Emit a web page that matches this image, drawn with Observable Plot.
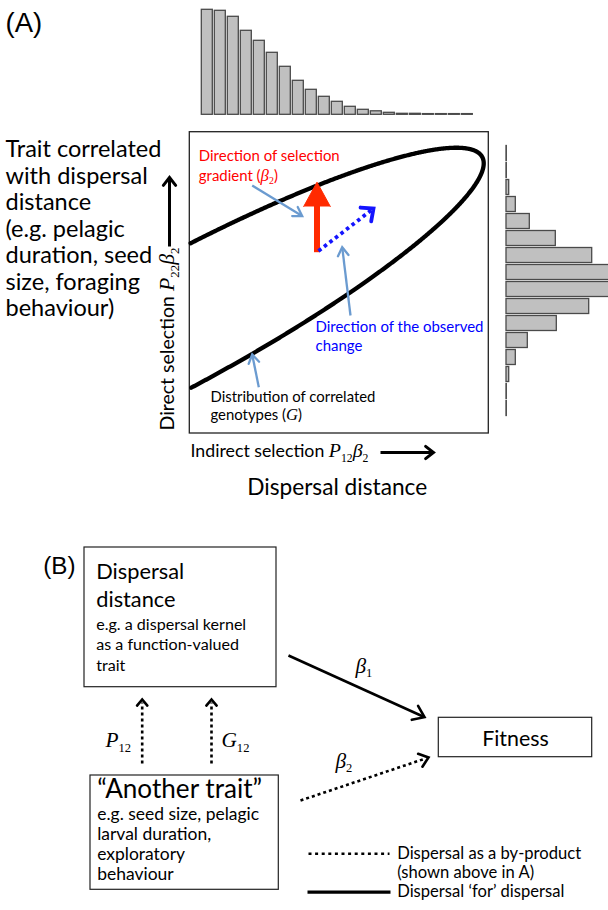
<!DOCTYPE html>
<html><head><meta charset="utf-8">
<script src="https://cdn.jsdelivr.net/npm/d3@7"></script>
<script src="https://cdn.jsdelivr.net/npm/@observablehq/plot@0.6"></script>
<style>html,body{margin:0;padding:0;background:#fff}svg{display:block}</style>
</head><body><div id="chart"></div>
<script>
// ---------------- DATA ----------------
// Frequency histogram of dispersal distance (top, bars left -> right)
const dispersalBins = d3.range(1, 22);
const dispersalCounts = [105, 104, 98, 84, 74, 62, 48, 34, 25, 18, 13, 8, 5, 3.5, 2, 1, 1, 0.7, 0.7, 0.7, 0.7];
// Frequency histogram of the correlated trait (right, bins top -> bottom)
const traitBins = d3.range(1, 17);
const traitCounts = [0.3, 0.3, 2.7, 9.3, 23.3, 49.3, 85.7, 104, 104, 82.7, 50.3, 21.3, 9.3, 2.7, 0.3, 0.3];
// Text labels
const leftLines = ["Trait correlated", "with dispersal", "distance", "(e.g. pelagic", "duration, seed", "size, foraging", "behaviour)"];

// ---------------- LAYOUT (diagram geometry, pixels) ----------------
const NS = "http://www.w3.org/2000/svg";
const SANS = "Lato, 'Open Sans', sans-serif";
const ARIAL = "'Liberation Sans', Arial, sans-serif";
const SERIF = "'Liberation Serif', 'Times New Roman', serif";
const RED = "#ff2a00", BLUE = "#1414ff", LBLUE = "#6b9bd0";

const boxA = [{x1: 189.3, x2: 488.3, y1: 131.7, y2: 433}];
const boxesB = [
  {x1: 84, x2: 276, y1: 547, y2: 686.7},
  {x1: 90, x2: 278.3, y1: 775, y2: 889.3},
  {x1: 438.3, x2: 591.7, y1: 717.3, y2: 756.7}
];
const G = {cx: 175, cy: 323, a: 349, b: 64, deg: 28.5};
const th = G.deg * Math.PI / 180;
const ellipse = d3.range(0, 1441).map(k => {
  const t = -Math.PI + k * Math.PI / 720, ca = Math.cos(t), sa = Math.sin(t);
  return [G.cx + G.a * ca * Math.cos(th) + G.b * sa * Math.sin(th),
          G.cy - G.a * ca * Math.sin(th) + G.b * sa * Math.cos(th)];
}).filter(p => p[0] >= boxA[0].x1 + 0.5);

const X = d => d[0], Y = d => d[1];
function shaft(a, b, o) {
  return Plot.link([{a, b}], {x1: d => d.a[0], y1: d => d.a[1], x2: d => d.b[0], y2: d => d.b[1], ...o});
}
function head(from, tip, len, ang, o) {
  const dx = tip[0] - from[0], dy = tip[1] - from[1], L = Math.hypot(dx, dy);
  const ux = dx / L, uy = dy / L, r = ang * Math.PI / 180;
  const wing = s => [tip[0] - (ux * Math.cos(s) - uy * Math.sin(s)) * len,
                     tip[1] - (ux * Math.sin(s) + uy * Math.cos(s)) * len];
  return Plot.line([wing(r), tip, wing(-r)], {x: X, y: Y, strokeLinejoin: "miter", strokeMiterlimit: 10, ...o});
}
function arrow(from, tip, o, hl, ha, dotted) {
  const dx = tip[0] - from[0], dy = tip[1] - from[1], L = Math.hypot(dx, dy);
  const back = dotted ? 3 : 1;
  const end = [tip[0] - dx / L * back, tip[1] - dy / L * back];
  const so = dotted ? {...o, strokeDasharray: dotted} : o;
  return [shaft(from, end, so), head(from, tip, hl, ha, o)];
}

const textGroups = [
  {rows: [["(A)", 5, 31.7]], font: ARIAL, size: 25, w: 36.7},
  {rows: leftLines.map((t, i) => [t, 5, 156.5 + 26.5 * i]), size: 22, w: 156},
  {rows: [["n:Direct selection |m:P|b:22|m:β|b:2", 173, 430]], size: 15, rotate: -90, w: 183},
  {rows: [["Direction of selection", 198.3, 160.7], ["n:gradient (|m:β|b:2|n:)", 198.3, 180]], size: 15, fill: "#ff0000", w: 141},
  {rows: [["Direction of the observed", 315, 331.7], ["change", 315, 350.5]], size: 15, fill: "#0000ff", w: 168},
  {rows: [["Distribution of correlated", 210, 401], ["n:genotypes (|m:G|n:)", 210, 419]], size: 14, w: 165},
  {rows: [["n:Indirect selection |m:P|b:12|m:β|b:2", 190, 456.7]], size: 15, w: 178},
  {rows: [["Dispersal distance", 246.7, 494.5]], size: 21, w: 180},
  {rows: [["(B)", 42.7, 573.3]], font: ARIAL, size: 25, w: 32.3},
  {rows: [["Dispersal", 95.7, 578.3], ["distance", 95.7, 606.7]], size: 22, w: 88},
  {rows: [["e.g. a dispersal kernel", 95.7, 629], ["as a function-valued", 95.7, 649.5], ["trait", 95.7, 670]], size: 15, w: 150},
  {rows: [["m:β|b:1", 355, 672], ["m:β|b:2", 335, 767], ["m:P|b:12", 105, 746.7], ["m:G|b:12", 221, 746.7]], font: SERIF, size: 19},
  {rows: [["“Another trait”", 96.7, 797]], size: 22, w: 165},
  {rows: [["e.g. seed size, pelagic", 96.7, 819], ["larval duration,", 96.7, 839], ["exploratory", 96.7, 859], ["behaviour", 96.7, 879]], size: 15, w: 162},
  {rows: [["Fitness", 515, 745]], size: 20, w: 66.7, anchor: "middle"},
  {rows: [["Dispersal as a by-product", 396.7, 858.3], ["(shown above in A)", 396.7, 877.5], ["Dispersal ‘for’ dispersal", 396.7, 896.7]], size: 15, w: 184}
];

// ---------------- MARKS ----------------
const blk = {stroke: "#000", strokeWidth: 3};
const marks = [
  Plot.rect(boxA, {x1: "x1", x2: "x2", y1: "y1", y2: "y2", fill: "none", stroke: "#222", strokeWidth: 1.3}),
  Plot.rect(boxesB, {x1: "x1", x2: "x2", y1: "y1", y2: "y2", fill: "none", stroke: "#222", strokeWidth: 1.2}),
  Plot.line(ellipse, {x: X, y: Y, stroke: "#000", strokeWidth: 4.3}),
  // red selection gradient arrow
  shaft([316.5, 251.7], [316.5, 200], {stroke: RED, strokeWidth: 6}),
  Plot.line([[303.2, 206], [316.5, 181.7], [329.8, 206]], {x: X, y: Y, fill: RED, stroke: RED, strokeWidth: 1}),
  // blue dotted observed change
  ...arrow([318, 250.5], [373, 208], {stroke: BLUE, strokeWidth: 3.8}, 13, 42, "3.5,3.5"),
  // light-blue pointers
  ...arrow([251.7, 185], [301.7, 215.5], {stroke: LBLUE, strokeWidth: 2.3}, 10, 32),
  ...arrow([350, 315], [341.7, 246.7], {stroke: LBLUE, strokeWidth: 2.3}, 10, 32),
  ...arrow([258.3, 386.7], [251.7, 354], {stroke: LBLUE, strokeWidth: 2.3}, 10, 32),
  // axis arrows
  ...arrow([169, 246], [169, 177], blk, 10, 38),
  ...arrow([380, 452], [433, 452], blk, 10, 38),
  // panel B arrows
  ...arrow([288, 655], [424, 716.7], {stroke: "#000", strokeWidth: 2.6}, 13, 36),
  ...arrow([141.7, 763], [141.7, 699], {stroke: "#000", strokeWidth: 2.6}, 8, 40, "3,3"),
  ...arrow([211, 763], [211, 699], {stroke: "#000", strokeWidth: 2.6}, 8, 40, "3,3"),
  ...arrow([300, 800], [428, 757], {stroke: "#000", strokeWidth: 2.6}, 11, 38, "3,3"),
  // legend lines
  shaft([308, 853.3], [389, 853.3], {stroke: "#000", strokeWidth: 2.6, strokeDasharray: "3,3.6"}),
  shaft([307, 891.7], [390, 891.7], {stroke: "#000", strokeWidth: 3.2}),
  // texts
  ...textGroups.map(gp => Plot.text(gp.rows, {
    x: d => d[1], y: d => d[2], text: d => d[0],
    textAnchor: gp.anchor || "start", lineAnchor: "bottom",
    fontFamily: gp.font || SANS, fontSize: gp.size, fill: gp.fill || "#000",
    rotate: gp.rotate || 0
  }))
];

const svg = Plot.plot({
  width: 608, height: 910, margin: 0,
  x: {domain: [0, 608], range: [0, 608], axis: null},
  y: {domain: [0, 910], range: [0, 910], axis: null},
  marks
});
document.getElementById("chart").appendChild(svg);

// ---------------- HISTOGRAMS (own scales) ----------------
function embed(inner, x, y) {
  const g = document.createElementNS(NS, "g");
  g.setAttribute("transform", `translate(${x},${y})`);
  while (inner.firstChild) g.appendChild(inner.firstChild);
  svg.appendChild(g);
}
const histTop = Plot.plot({
  width: 278, height: 106, margin: 0,
  x: {type: "band", domain: dispersalBins, paddingInner: 0.15, paddingOuter: 0.075, axis: null},
  y: {domain: [0, 106], axis: null},
  marks: [Plot.barY(dispersalCounts, {x: (d, i) => dispersalBins[i], y: d => d, fill: "#c0c0c0", stroke: "#4a4a4a", strokeWidth: 1.3})]
});
embed(histTop, 198.3, 8.3);
const histRight = Plot.plot({
  width: 110, height: 278, margin: 0,
  y: {type: "band", domain: traitBins, paddingInner: 0.14, paddingOuter: 0.07, axis: null},
  x: {domain: [0, 110], range: [0, 110], axis: null},
  marks: [Plot.barX(traitCounts, {y: (d, i) => traitBins[i], x: d => d, fill: "#c0c0c0", stroke: "#4a4a4a", strokeWidth: 1.3})]
});
embed(histRight, 506, 141.5);

// ---------------- RICH TEXT (italic maths, subscripts) ----------------
function richify(el) {
  const raw = el.textContent;
  if (!/^(n|m|b):/.test(raw)) return;
  el.textContent = "";
  let shift = 0;
  for (const seg of raw.split("|")) {
    const k = seg[0], t = seg.slice(2);
    const ts = document.createElementNS(NS, "tspan");
    let scale = 1, target = 0;
    if (k === "m") { ts.setAttribute("font-family", SERIF); ts.setAttribute("font-style", "italic"); scale = 1.12; }
    if (k === "b") { ts.setAttribute("font-family", SERIF); ts.setAttribute("font-style", "normal"); scale = 0.66; target = 0.26; }
    ts.style.fontSize = scale + "em";
    const d = target - shift;
    if (d) ts.setAttribute("dy", (d / scale).toFixed(3) + "em");
    shift = target;
    ts.textContent = t;
    el.appendChild(ts);
  }
}
svg.querySelectorAll("text").forEach(richify);

// fit each text group to the measured width of its reference line
const tg = svg.querySelectorAll(':scope > g[aria-label="text"]');
textGroups.forEach((gp, i) => {
  if (!gp.w || !tg[i]) return;
  const texts = tg[i].querySelectorAll("text");
  const ref = texts[0];
  const len = ref.getComputedTextLength();
  if (!len) return;
  const f = gp.w / len;
  texts.forEach(t => { t.style.fontSize = (gp.size * f).toFixed(2) + "px"; });
});
</script>
</body></html>
